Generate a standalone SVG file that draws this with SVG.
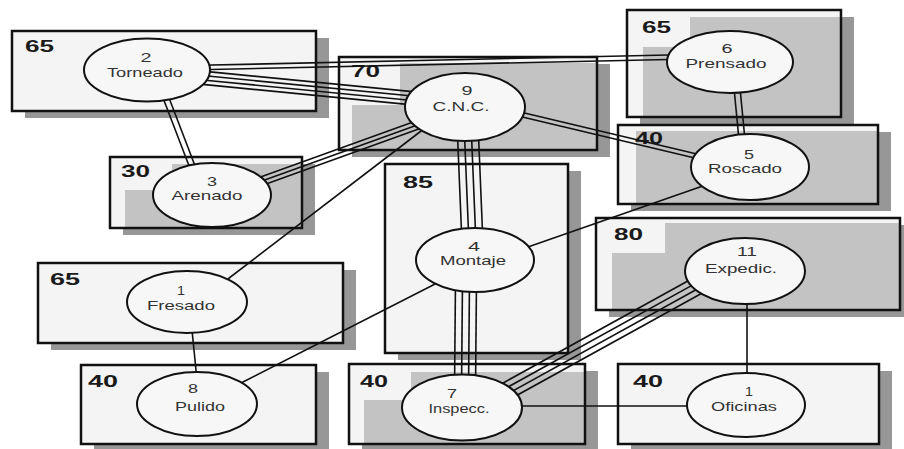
<svg xmlns="http://www.w3.org/2000/svg" xmlns:xlink="http://www.w3.org/1999/xlink" width="904" height="449" viewBox="0 0 904 449">
<style>
.sh{fill:#979797}
.bx{fill:#f4f4f4}
.gy{fill:#c3c3c3}
.fr{fill:none;stroke:#111;stroke-width:2.5}
.lb{font-family:"Liberation Sans",Arial,sans-serif;font-weight:bold;font-size:16px;fill:#1a1a1a}
.nd{fill:#f7f7f7;stroke:#111;stroke-width:2}
.tx{font-family:"Liberation Sans",Arial,sans-serif;font-size:13px;fill:#333;text-anchor:middle}
.ln{stroke:#111;stroke-width:1.6;fill:none}
</style>
<defs>
<line id="k26" x1="200" y1="67.5" x2="680" y2="57"/>
<line id="k29" x1="200" y1="77.5" x2="420" y2="99"/>
<line id="k23" x1="163" y1="90" x2="196.7" y2="178"/>
<line id="k39" x1="255" y1="183.6" x2="420" y2="124"/>
<line id="k91" x1="425" y1="128" x2="220" y2="285"/>
<line id="k94" x1="468" y1="135" x2="472" y2="232"/>
<line id="k95" x1="515" y1="113" x2="700" y2="157"/>
<line id="k65" x1="737" y1="88" x2="742" y2="140"/>
<line id="k54" x1="720" y1="180" x2="525" y2="248"/>
<line id="k48" x1="440" y1="281.5" x2="240" y2="383.5"/>
<line id="k18" x1="191" y1="320" x2="197.5" y2="385"/>
<line id="k47" x1="466" y1="280" x2="465" y2="390"/>
<line id="k711" x1="500" y1="394.7" x2="710" y2="278.7"/>
<line id="k710" x1="500" y1="406" x2="700" y2="406"/>
<line id="k1110" x1="747" y1="300" x2="747" y2="385"/>
</defs>

<g id="area-2">
<rect class="sh" x="25" y="38" width="304" height="80"/>
<rect class="bx" x="12" y="31" width="304" height="80"/>
<rect class="fr" x="12" y="31" width="304" height="80"/>
<text class="lb" x="25" y="52" textLength="29" lengthAdjust="spacingAndGlyphs">65</text>
</g>
<g id="area-9">
<rect class="sh" x="352" y="64" width="258" height="93"/>
<rect class="bx" x="339" y="57" width="258" height="93"/>
<rect class="gy" x="400" y="63" width="197" height="87"/>
<rect class="gy" x="352" y="105" width="245" height="45"/>
<rect class="fr" x="339" y="57" width="258" height="93"/>
<text class="lb" x="351" y="77" textLength="29" lengthAdjust="spacingAndGlyphs">70</text>
</g>
<g id="area-6">
<rect class="sh" x="640" y="17" width="214" height="107"/>
<rect class="bx" x="627" y="10" width="214" height="107"/>
<rect class="gy" x="690" y="17" width="151" height="100"/>
<rect class="gy" x="643" y="47" width="198" height="70"/>
<rect class="fr" x="627" y="10" width="214" height="107"/>
<text class="lb" x="642" y="33" textLength="29" lengthAdjust="spacingAndGlyphs">65</text>
</g>
<g id="area-5">
<rect class="sh" x="631" y="132" width="260" height="79"/>
<rect class="bx" x="618" y="125" width="260" height="79"/>
<rect class="gy" x="636" y="131" width="242" height="73"/>
<rect class="fr" x="618" y="125" width="260" height="79"/>
<text class="lb" x="635" y="144" textLength="28" lengthAdjust="spacingAndGlyphs">40</text>
</g>
<g id="area-3">
<rect class="sh" x="123" y="164" width="192" height="71"/>
<rect class="bx" x="110" y="157" width="192" height="71"/>
<rect class="gy" x="172" y="164" width="130" height="64"/>
<rect class="gy" x="125" y="190" width="177" height="38"/>
<rect class="fr" x="110" y="157" width="192" height="71"/>
<text class="lb" x="121" y="177" textLength="29" lengthAdjust="spacingAndGlyphs">30</text>
</g>
<g id="area-1">
<rect class="sh" x="51" y="270" width="305" height="80"/>
<rect class="bx" x="38" y="263" width="305" height="80"/>
<rect class="fr" x="38" y="263" width="305" height="80"/>
<text class="lb" x="50" y="285" textLength="30" lengthAdjust="spacingAndGlyphs">65</text>
</g>
<g id="area-8">
<rect class="sh" x="94" y="372" width="235" height="79"/>
<rect class="bx" x="81" y="365" width="235" height="79"/>
<rect class="fr" x="81" y="365" width="235" height="79"/>
<text class="lb" x="88" y="387" textLength="30" lengthAdjust="spacingAndGlyphs">40</text>
</g>
<g id="area-4">
<rect class="sh" x="398" y="171" width="183" height="189"/>
<rect class="bx" x="385" y="164" width="183" height="189"/>
<rect class="fr" x="385" y="164" width="183" height="189"/>
<text class="lb" x="403" y="188" textLength="30" lengthAdjust="spacingAndGlyphs">85</text>
</g>
<g id="area-7">
<rect class="sh" x="362" y="371" width="236" height="80"/>
<rect class="bx" x="349" y="364" width="236" height="80"/>
<rect class="gy" x="411" y="372" width="174" height="72"/>
<rect class="gy" x="364" y="400" width="221" height="44"/>
<rect class="fr" x="349" y="364" width="236" height="80"/>
<text class="lb" x="360" y="387" textLength="28" lengthAdjust="spacingAndGlyphs">40</text>
</g>
<g id="area-10">
<rect class="sh" x="631" y="371" width="261" height="80"/>
<rect class="bx" x="618" y="364" width="261" height="80"/>
<rect class="fr" x="618" y="364" width="261" height="80"/>
<text class="lb" x="633" y="387" textLength="30" lengthAdjust="spacingAndGlyphs">40</text>
</g>
<g id="area-11">
<rect class="sh" x="609" y="225" width="304" height="92"/>
<rect class="bx" x="596" y="218" width="304" height="92"/>
<rect class="gy" x="665" y="223" width="235" height="87"/>
<rect class="gy" x="612" y="253" width="288" height="57"/>
<rect class="fr" x="596" y="218" width="304" height="92"/>
<text class="lb" x="614" y="240" textLength="29" lengthAdjust="spacingAndGlyphs">80</text>
</g>

<g id="connectors" class="ln">
<use xlink:href="#k26" y="-2.2"/><use xlink:href="#k26" y="2.2"/>
<use xlink:href="#k29" y="-6.6"/><use xlink:href="#k29" y="-2.2"/><use xlink:href="#k29" y="2.2"/><use xlink:href="#k29" y="6.6"/>
<use xlink:href="#k23" x="-3"/><use xlink:href="#k23" x="3"/>
<use xlink:href="#k39" y="-4.5"/><use xlink:href="#k39"/><use xlink:href="#k39" y="4.5"/>
<use xlink:href="#k91"/>
<use xlink:href="#k94" x="-10.5"/><use xlink:href="#k94" x="-3.5"/><use xlink:href="#k94" x="3.5"/><use xlink:href="#k94" x="10.5"/>
<use xlink:href="#k95" y="-2.2"/><use xlink:href="#k95" y="2.2"/>
<use xlink:href="#k65" x="-3"/><use xlink:href="#k65" x="3"/>
<use xlink:href="#k54"/>
<use xlink:href="#k48"/>
<use xlink:href="#k18"/>
<use xlink:href="#k47" x="-10.5"/><use xlink:href="#k47" x="-3.5"/><use xlink:href="#k47" x="3.5"/><use xlink:href="#k47" x="10.5"/>
<use xlink:href="#k711" y="-10"/><use xlink:href="#k711" y="-3.3"/><use xlink:href="#k711" y="3.3"/><use xlink:href="#k711" y="10"/>
<use xlink:href="#k710"/>
<use xlink:href="#k1110"/>
</g>

<g id="node-2"><ellipse class="nd" cx="147" cy="70" rx="63" ry="31.5"/>
<text class="tx" x="146" y="62" textLength="11" lengthAdjust="spacingAndGlyphs">2</text>
<text class="tx" x="145" y="77" textLength="76" lengthAdjust="spacingAndGlyphs">Torneado</text></g>
<g id="node-9"><ellipse class="nd" cx="465" cy="107" rx="60" ry="34"/>
<text class="tx" x="467" y="95" textLength="11" lengthAdjust="spacingAndGlyphs">9</text>
<text class="tx" x="461" y="111" textLength="57" lengthAdjust="spacingAndGlyphs">C.N.C.</text></g>
<g id="node-6"><ellipse class="nd" cx="730" cy="62" rx="63" ry="31"/>
<text class="tx" x="727" y="53" textLength="11" lengthAdjust="spacingAndGlyphs">6</text>
<text class="tx" x="726" y="68" textLength="81" lengthAdjust="spacingAndGlyphs">Prensado</text></g>
<g id="node-5"><ellipse class="nd" cx="750" cy="167" rx="59" ry="33"/>
<text class="tx" x="749" y="159" textLength="10" lengthAdjust="spacingAndGlyphs">5</text>
<text class="tx" x="745" y="173" textLength="74" lengthAdjust="spacingAndGlyphs">Roscado</text></g>
<g id="node-3"><ellipse class="nd" cx="212" cy="195" rx="59" ry="32"/>
<text class="tx" x="212" y="186" textLength="10" lengthAdjust="spacingAndGlyphs">3</text>
<text class="tx" x="207" y="200" textLength="71" lengthAdjust="spacingAndGlyphs">Arenado</text></g>
<g id="node-1"><ellipse class="nd" cx="187" cy="302" rx="60" ry="31"/>
<text class="tx" x="181" y="295" textLength="8" lengthAdjust="spacingAndGlyphs">1</text>
<text class="tx" x="181" y="310" textLength="68" lengthAdjust="spacingAndGlyphs">Fresado</text></g>
<g id="node-8"><ellipse class="nd" cx="197" cy="404" rx="60" ry="32"/>
<text class="tx" x="193" y="393" textLength="10" lengthAdjust="spacingAndGlyphs">8</text>
<text class="tx" x="200" y="411" textLength="50" lengthAdjust="spacingAndGlyphs">Pulido</text></g>
<g id="node-4"><ellipse class="nd" cx="475" cy="260" rx="59" ry="32"/>
<text class="tx" x="474" y="251" textLength="12" lengthAdjust="spacingAndGlyphs">4</text>
<text class="tx" x="473" y="265" textLength="66" lengthAdjust="spacingAndGlyphs">Montaje</text></g>
<g id="node-7"><ellipse class="nd" cx="462" cy="407.5" rx="60" ry="33"/>
<text class="tx" x="452" y="398" textLength="10" lengthAdjust="spacingAndGlyphs">7</text>
<text class="tx" x="459" y="413" textLength="61" lengthAdjust="spacingAndGlyphs">Inspecc.</text></g>
<g id="node-10"><ellipse class="nd" cx="746" cy="405" rx="59" ry="32"/>
<text class="tx" x="749" y="396" textLength="8" lengthAdjust="spacingAndGlyphs">1</text>
<text class="tx" x="744" y="411" textLength="66" lengthAdjust="spacingAndGlyphs">Oficinas</text></g>
<g id="node-11"><ellipse class="nd" cx="745" cy="271" rx="60" ry="33"/>
<text class="tx" x="747" y="256" textLength="20" lengthAdjust="spacingAndGlyphs">11</text>
<text class="tx" x="741" y="273" textLength="72" lengthAdjust="spacingAndGlyphs">Expedic.</text></g>
</svg>
